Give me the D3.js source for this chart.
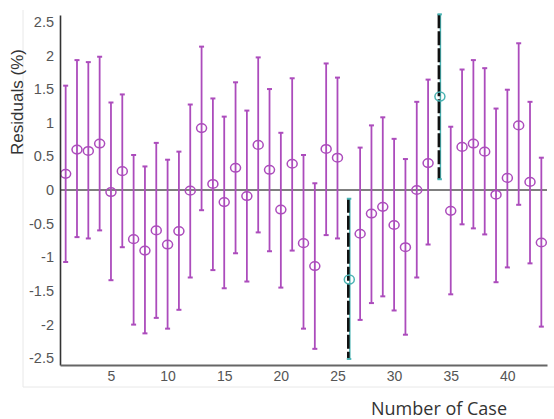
<!DOCTYPE html>
<html>
<head>
<meta charset="utf-8">
<script src="https://cdn.jsdelivr.net/npm/d3@7"></script>
<style>
  body { margin: 0; background: #fff; }
  svg { display: block; }
</style>
</head>
<body>
<svg id="chart"></svg>
<script>
// residual per case, with upper / lower interval ends (%)
var residual = [0.24, 0.60, 0.58, 0.69, -0.03, 0.28, -0.73, -0.90, -0.60, -0.81,
  -0.61, -0.01, 0.92, 0.09, -0.18, 0.33, -0.09, 0.67, 0.30, -0.29,
  0.39, -0.79, -1.13, 0.61, 0.48, -1.33, -0.65, -0.35, -0.25, -0.52,
  -0.85, 0.00, 0.40, 1.39, -0.31, 0.64, 0.69, 0.57, -0.07, 0.18,
  0.96, 0.12, -0.78];
var upper = [1.55, 1.93, 1.90, 1.98, 1.30, 1.42, 0.52, 0.35, 0.70, 0.45,
  0.57, 1.27, 2.13, 1.36, 1.09, 1.60, 1.18, 1.97, 1.50, 0.85,
  1.66, 0.52, 0.10, 1.88, 1.67, -0.13, 0.63, 0.96, 1.08, 0.76,
  0.46, 1.31, 1.64, 2.61, 0.94, 1.79, 1.93, 1.81, 1.21, 1.49,
  2.18, 1.31, 0.48];
var lower = [-1.07, -0.70, -0.72, -0.60, -1.34, -0.85, -2.00, -2.13, -1.90, -2.06,
  -1.78, -1.30, -0.30, -1.19, -1.46, -0.94, -1.36, -0.63, -0.91, -1.45,
  -0.90, -2.06, -2.36, -0.67, -0.72, -2.51, -1.93, -1.68, -1.58, -1.79,
  -2.15, -1.30, -0.81, 0.16, -1.55, -0.51, -0.57, -0.66, -1.37, -1.15,
  -0.22, -1.09, -2.03];
var outliers = [26, 34];
var yTicks = [-2.5, -2, -1.5, -1, -0.5, 0, 0.5, 1, 1.5, 2, 2.5];
var xTicks = [5, 10, 15, 20, 25, 30, 35, 40];

var width = 554, height = 419;
var svg = d3.select("#chart").attr("width", width).attr("height", height);

var x = d3.scaleLinear().domain([0.5, 43.5]).range([60, 547]);
var y = d3.scaleLinear().domain([-2.6, 2.6]).range([365, 15]);

var purple = "#ac4cbc", teal = "#4ab3b3";

var data = residual.map(function (r, i) {
  return {c: i + 1, r: r, hi: upper[i], lo: lower[i], out: outliers.indexOf(i + 1) >= 0};
});

// light frame
svg.append("line").attr("x1", 23).attr("x2", 23).attr("y1", 10).attr("y2", 387)
  .attr("stroke", "#e8e8e8").attr("stroke-width", 1);
svg.append("line").attr("x1", 23).attr("x2", 554).attr("y1", 387).attr("y2", 387)
  .attr("stroke", "#e8e8e8").attr("stroke-width", 1);

// zero line
svg.append("line").attr("x1", x(0.5)).attr("x2", x(43.5)).attr("y1", y(0)).attr("y2", y(0))
  .attr("stroke", "#555").attr("stroke-width", 1.5);

var normal = data.filter(function (d) { return !d.out; });
var special = data.filter(function (d) { return d.out; });

var g = svg.append("g");
g.selectAll(".bar").data(normal).enter().append("line")
  .attr("x1", function (d) { return x(d.c); }).attr("x2", function (d) { return x(d.c); })
  .attr("y1", function (d) { return y(d.hi); }).attr("y2", function (d) { return y(d.lo); })
  .attr("stroke", purple).attr("stroke-width", 1.8);
["hi", "lo"].forEach(function (k) {
  g.selectAll(".cap-" + k).data(normal).enter().append("line")
    .attr("x1", function (d) { return x(d.c) - 2.5; }).attr("x2", function (d) { return x(d.c) + 2.5; })
    .attr("y1", function (d) { return y(d[k]); }).attr("y2", function (d) { return y(d[k]); })
    .attr("stroke", purple).attr("stroke-width", 2);
});
g.selectAll(".pt").data(normal).enter().append("ellipse")
  .attr("cx", function (d) { return x(d.c); }).attr("cy", function (d) { return y(d.r); })
  .attr("rx", 5).attr("ry", 4.3)
  .attr("fill", "none").attr("stroke", purple).attr("stroke-width", 1.5);

// highlighted cases
g.selectAll(".tl").data(special).enter().append("line")
  .attr("x1", function (d) { return x(d.c) + 1; }).attr("x2", function (d) { return x(d.c) + 1; })
  .attr("y1", function (d) { return y(d.hi); }).attr("y2", function (d) { return y(d.lo); })
  .attr("stroke", teal).attr("stroke-width", 1.5);
g.selectAll(".dl").data(special).enter().append("line")
  .attr("x1", function (d) { return x(d.c) - 0.5; }).attr("x2", function (d) { return x(d.c) - 0.5; })
  .attr("y1", function (d) { return y(d.hi); }).attr("y2", function (d) { return y(d.lo); })
  .attr("stroke", "#111").attr("stroke-width", 2.6).attr("stroke-dasharray", "14,3");
["hi", "lo"].forEach(function (k) {
  g.selectAll(".tcap-" + k).data(special).enter().append("line")
    .attr("x1", function (d) { return x(d.c) - 2; }).attr("x2", function (d) { return x(d.c) + 2.5; })
    .attr("y1", function (d) { return y(d[k]); }).attr("y2", function (d) { return y(d[k]); })
    .attr("stroke", teal).attr("stroke-width", 2);
});
g.selectAll(".tpt").data(special).enter().append("ellipse")
  .attr("cx", function (d) { return x(d.c) + 0.5; }).attr("cy", function (d) { return y(d.r); })
  .attr("rx", 5).attr("ry", 4.5)
  .attr("fill", "none").attr("stroke", teal).attr("stroke-width", 1.5);

// axes
var yAxis = svg.append("g").attr("transform", "translate(60,0)")
  .call(d3.axisLeft(y).tickValues(yTicks).tickSize(0).tickPadding(6)
    .tickFormat(function (d) { return String(d); }));
yAxis.select(".domain").attr("stroke", "#333").attr("stroke-width", 1.6);
yAxis.selectAll("text").attr("font-family", "Liberation Sans, Arial, sans-serif")
  .attr("font-size", 14.5).attr("fill", "#555");

var xAxis = svg.append("g").attr("transform", "translate(0,365)")
  .call(d3.axisBottom(x).tickValues(xTicks).tickSize(0).tickPadding(6));
xAxis.select(".domain").attr("stroke", "#666").attr("stroke-width", 2);
xAxis.selectAll("text").attr("font-family", "Liberation Sans, Arial, sans-serif")
  .attr("font-size", 14).attr("fill", "#555");

// titles
svg.append("text").attr("transform", "translate(23,102) rotate(-90)")
  .attr("text-anchor", "middle").attr("font-family", "Liberation Sans, Arial, sans-serif")
  .attr("font-size", 17).attr("fill", "#333").text("Residuals (%)");
svg.append("text").attr("x", 439).attr("y", 415)
  .attr("text-anchor", "middle").attr("font-family", "Open Sans, Liberation Sans, sans-serif")
  .attr("font-size", 18).attr("fill", "#333").text("Number of Case");
</script>
</body>
</html>
